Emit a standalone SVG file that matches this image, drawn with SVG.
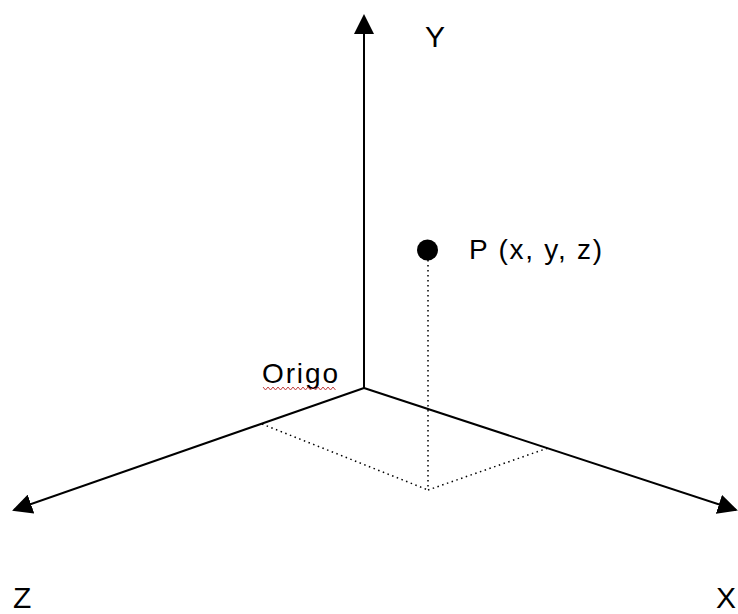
<svg xmlns="http://www.w3.org/2000/svg" width="738" height="614" viewBox="0 0 738 614">
<style>
.axis{stroke:#000;stroke-width:2;fill:none}
.dot{stroke:#000;stroke-width:1.5;fill:none;stroke-dasharray:1.5 3.5}
.lbl{font-family:"Liberation Sans",Arial,sans-serif;fill:#000;font-weight:300}
</style>
<defs>
<marker id="ahl" viewBox="0 0 10 10" refX="9" refY="5" markerWidth="20" markerHeight="20" markerUnits="userSpaceOnUse" orient="auto"><path d="M0,0 L10,5 L0,10 z" fill="#000"/></marker>
</defs>
<rect width="738" height="614" fill="#fff"/>
<g id="connectors">
<line class="axis" x1="364" y1="388" x2="364" y2="16" marker-end="url(#ahl)"/>
<line class="axis" x1="364" y1="388" x2="14" y2="510" marker-end="url(#ahl)"/>
<line class="axis" x1="364" y1="388" x2="736" y2="510" marker-end="url(#ahl)"/>
<line class="dot" x1="428" y1="260" x2="428" y2="490"/>
<line class="dot" x1="262" y1="424" x2="428" y2="490"/>
<line class="dot" x1="428" y1="490" x2="548" y2="448"/>
</g>
<g id="point-P">
<circle cx="427.5" cy="250" r="10.5" fill="#000"/>
<text class="lbl" x="469" y="259" font-size="28" textLength="133" lengthAdjust="spacing">P (x, y, z)</text>
</g>
<g id="origo">
<text class="lbl" x="262" y="383" font-size="28" textLength="76" lengthAdjust="spacing">Origo</text>
<path d="M263,387 l2.5,3 l2.5,-3 l2.5,3 l2.5,-3 l2.5,3 l2.5,-3 l2.5,3 l2.5,-3 l2.5,3 l2.5,-3 l2.5,3 l2.5,-3 l2.5,3 l2.5,-3 l2.5,3 l2.5,-3 l2.5,3 l2.5,-3 l2.5,3 l2.5,-3 l2.5,3 l2.5,-3 l2.5,3 l2.5,-3 l2.5,3 l2.5,-3 l2.5,3 l2.5,-3 l2.5,3" fill="none" stroke="#c04040" stroke-width="1"/>
</g>
<g id="label-Y"><text class="lbl" x="425" y="47" font-size="30">Y</text></g>
<g id="label-Z"><text class="lbl" x="13" y="608" font-size="30">Z</text></g>
<g id="label-X"><text class="lbl" x="716" y="608" font-size="30">X</text></g>
</svg>
